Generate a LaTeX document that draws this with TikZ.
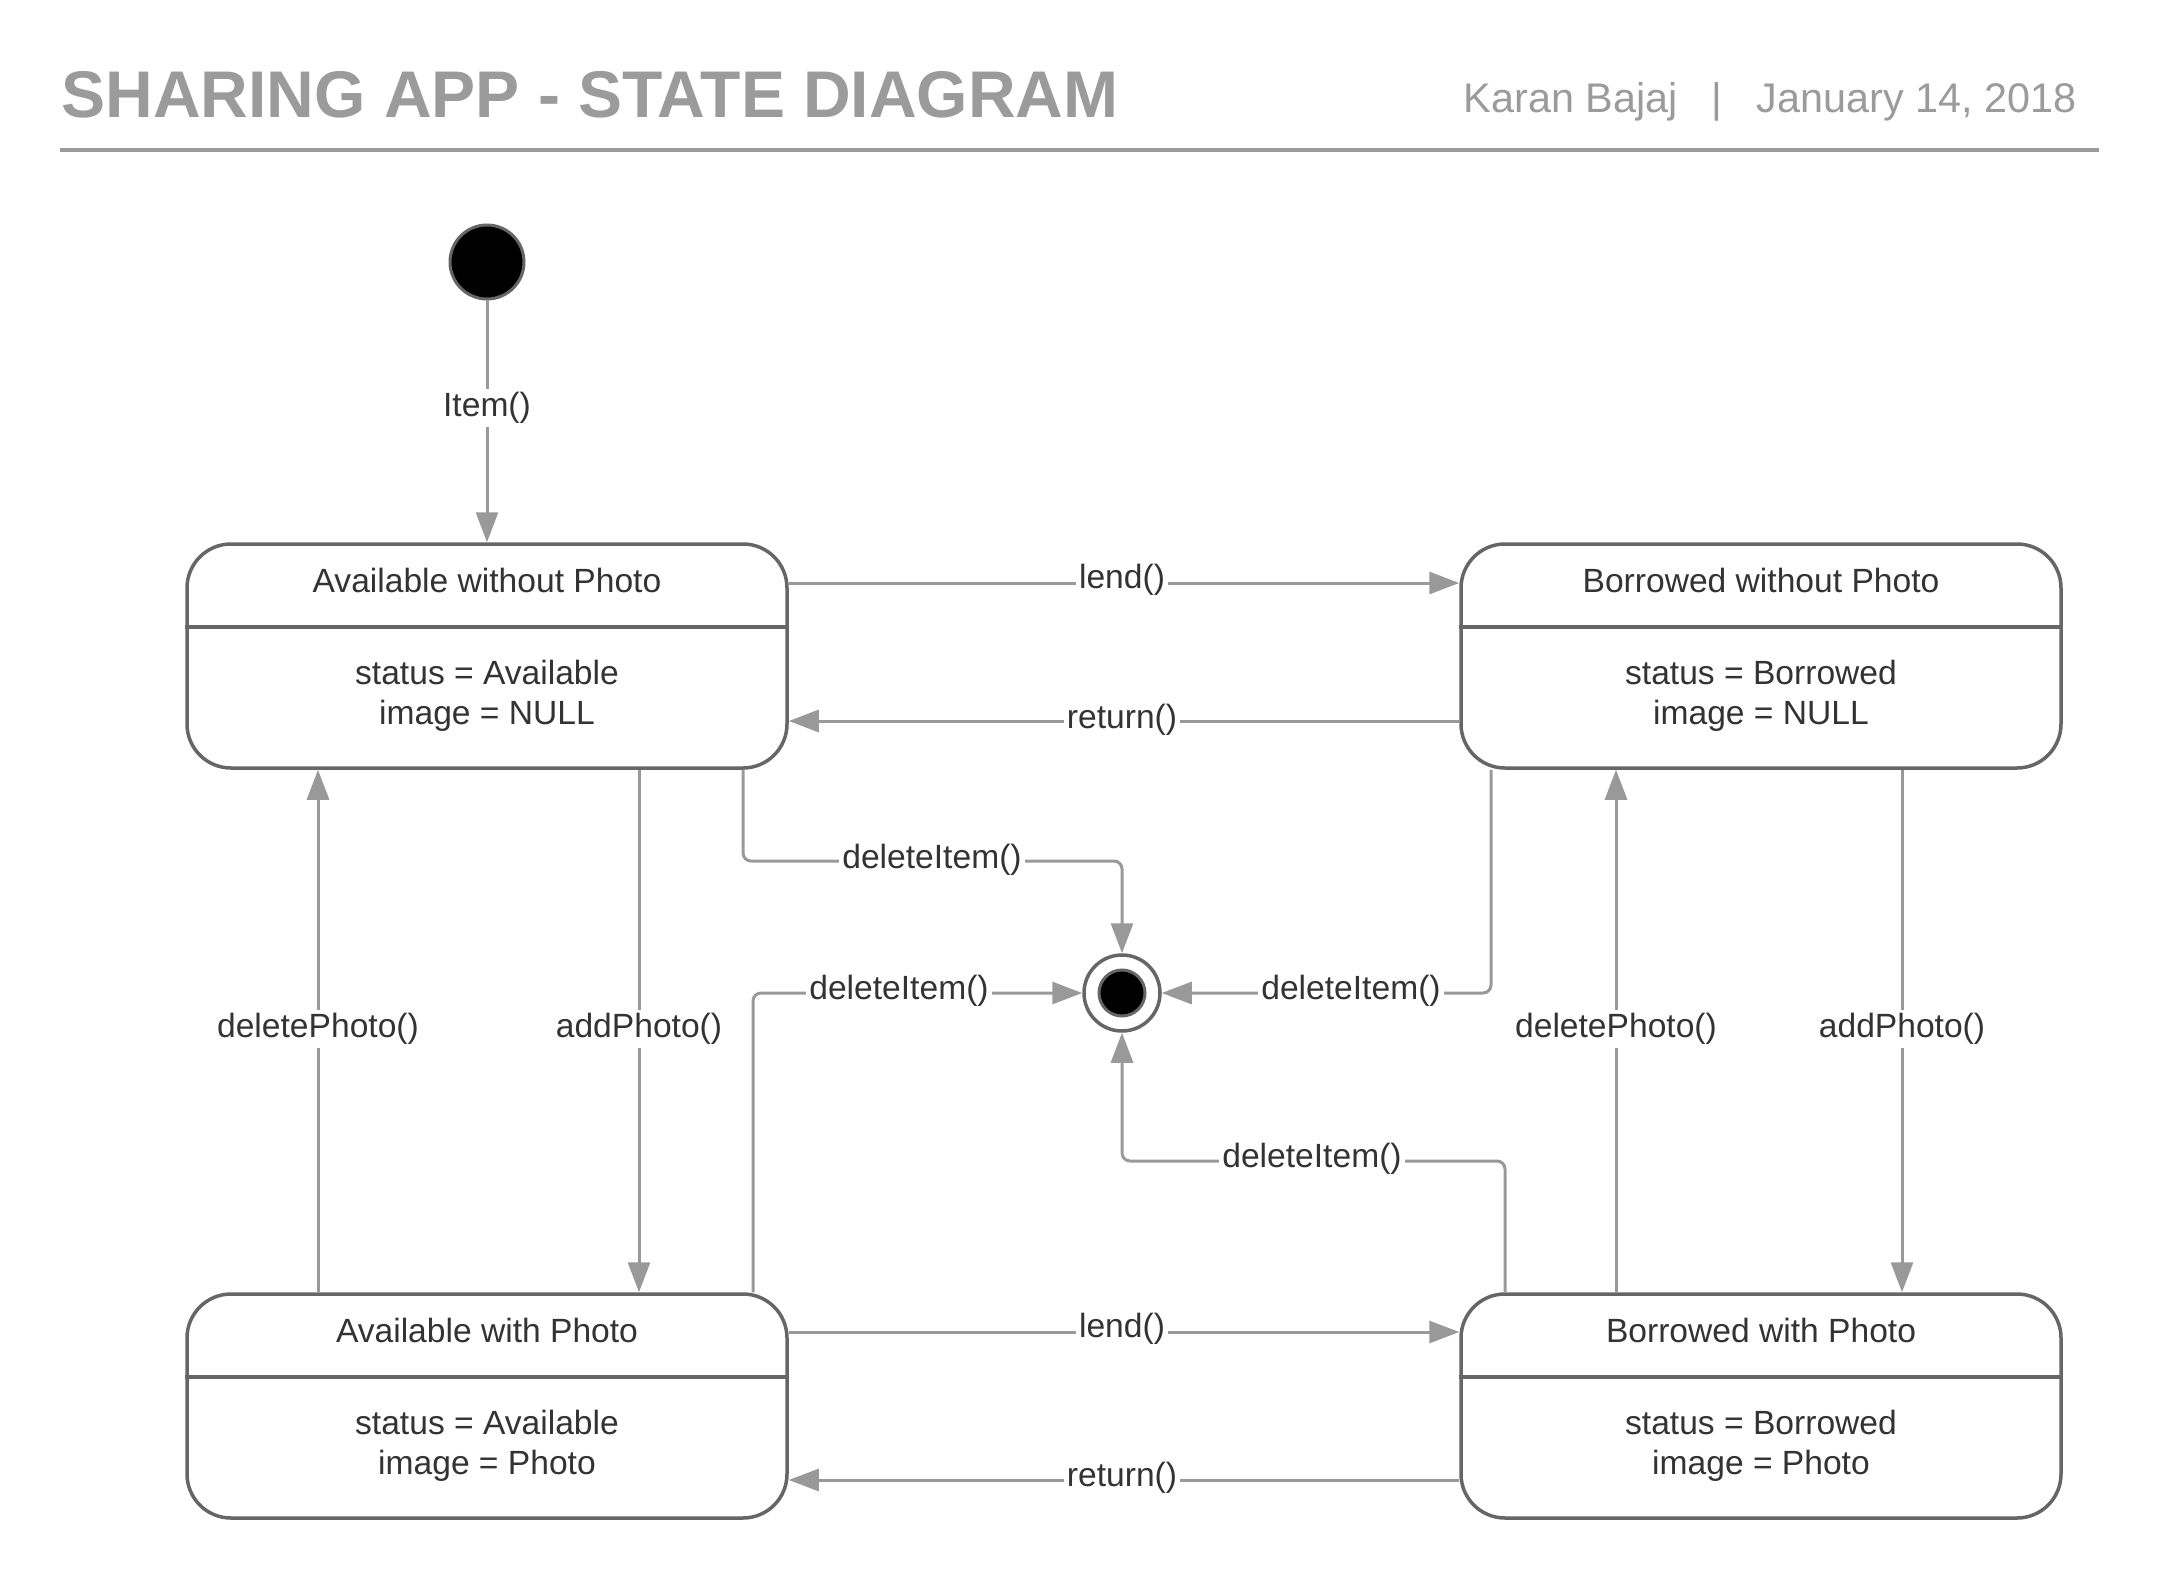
\documentclass[tikz,border=0pt]{standalone}
\usepackage{fontspec}
\setmainfont{Liberation Sans}
\usetikzlibrary{arrows.meta}
\definecolor{boxc}{HTML}{666666}
\definecolor{arrc}{HTML}{999999}
\definecolor{txtc}{HTML}{333333}
\definecolor{ttlc}{HTML}{9B9B9B}
\tikzset{
  statebox/.style={draw=boxc, line width=1.75pt, rounded corners=22pt, minimum width=300pt, minimum height=112pt, fill=white},
  divline/.style={draw=boxc, line width=1.75pt},
  stxt/.style={text=txtc, font=\fontsize{16.8}{20}\selectfont, align=center, inner sep=0pt},
  conn/.style={draw=arrc, line width=1.5pt, -{Triangle[length=15pt,width=11pt]}, rounded corners=4pt},
  lbl/.style={fill=white, text=txtc, font=\fontsize{16.8}{19}\selectfont, inner sep=1.5pt},
}
\begin{document}
\begin{tikzpicture}[x=0.5pt,y=-0.5pt]
\useasboundingbox (0,0) rectangle (2175,1594);
% header
\node[anchor=base west, inner sep=0pt, text=ttlc, font=\fontsize{33}{38}\bfseries\selectfont] (title) at (61,118) {SHARING APP - STATE DIAGRAM};
\node[anchor=base east, inner sep=0pt, text=ttlc, font=\fontsize{20.7}{24}\selectfont] (author) at (2077,113) {Karan Bajaj\hspace{17pt}|\hspace{17pt}January 14, 2018};
\coordinate (hl) at (60,150);
\coordinate (hr) at (2099,150);
\draw[ttlc, line width=2pt] (hl) -- (hr);
% initial and final
\node[circle, draw=boxc, fill=black, line width=1.5pt, minimum size=37pt, inner sep=0pt] (init) at (487,262) {};
\node[circle, draw=boxc, fill=white, line width=1.75pt, minimum size=38pt, inner sep=0pt] (fin) at (1122,993) {};
\node[circle, draw=boxc, fill=black, line width=1.5pt, minimum size=23pt, inner sep=0pt] (fininner) at (1122,993) {};
% states
\node[statebox] (avn) at (487,656) {};
\node[statebox] (bwn) at (1761,656) {};
\node[statebox] (awp) at (487,1406) {};
\node[statebox] (bwp) at (1761,1406) {};
\draw[divline] (avn.west |- 0,627) -- (avn.east |- 0,627);
\draw[divline] (bwn.west |- 0,627) -- (bwn.east |- 0,627);
\draw[divline] (awp.west |- 0,1377) -- (awp.east |- 0,1377);
\draw[divline] (bwp.west |- 0,1377) -- (bwp.east |- 0,1377);
\node[stxt] (avnT) at (487,580) {Available without Photo};
\node[stxt] (avnB) at (487,696) {status = Available\\image = NULL};
\node[stxt] (bwnT) at (1761,580) {Borrowed without Photo};
\node[stxt] (bwnB) at (1761,696) {status = Borrowed\\image = NULL};
\node[stxt] (awpT) at (487,1330) {Available with Photo};
\node[stxt] (awpB) at (487,1446) {status = Available\\image = Photo};
\node[stxt] (bwpT) at (1761,1330) {Borrowed with Photo};
\node[stxt] (bwpB) at (1761,1446) {status = Borrowed\\image = Photo};
% connectors
\draw[conn] (init) -- (avn.north);
\draw[conn] (avn.east |- 0,583) -- (bwn.west |- 0,583);
\draw[conn] (bwn.west |- 0,721) -- (avn.east |- 0,721);
\draw[conn] (awp.east |- 0,1332) -- (bwp.west |- 0,1332);
\draw[conn] (bwp.west |- 0,1480) -- (awp.east |- 0,1480);
\draw[conn] (awp.north -| 318,0) -- (avn.south -| 318,0);
\draw[conn] (avn.south -| 639,0) -- (awp.north -| 639,0);
\draw[conn] (bwp.north -| 1616,0) -- (bwn.south -| 1616,0);
\draw[conn] (bwn.south -| 1902,0) -- (bwp.north -| 1902,0);
\draw[conn] (avn.south -| 743,0) -- (743,861) -- (1122,861) -- (fin.north);
\draw[conn] (bwn.south -| 1491,0) -- (1491,993) -- (fin.east);
\draw[conn] (awp.north -| 753,0) -- (753,993) -- (fin.west);
\draw[conn] (bwp.north -| 1505,0) -- (1505,1161) -- (1122,1161) -- (fin.south);
% labels
\node[lbl] (l1) at (487,408) {Item()};
\node[lbl] (l2) at (1122,580) {lend()};
\node[lbl] (l3) at (1122,720) {return()};
\node[lbl] (l4) at (1122,1329) {lend()};
\node[lbl] (l5) at (1122,1478) {return()};
\node[lbl] (l6) at (318,1029) {deletePhoto()};
\node[lbl] (l7) at (639,1029) {addPhoto()};
\node[lbl] (l8) at (1616,1029) {deletePhoto()};
\node[lbl] (l9) at (1902,1029) {addPhoto()};
\node[lbl] (l10) at (932,860) {deleteItem()};
\node[lbl] (l11) at (1351,991) {deleteItem()};
\node[lbl] (l12) at (899,991) {deleteItem()};
\node[lbl] (l13) at (1312,1159) {deleteItem()};
\end{tikzpicture}
\end{document}
